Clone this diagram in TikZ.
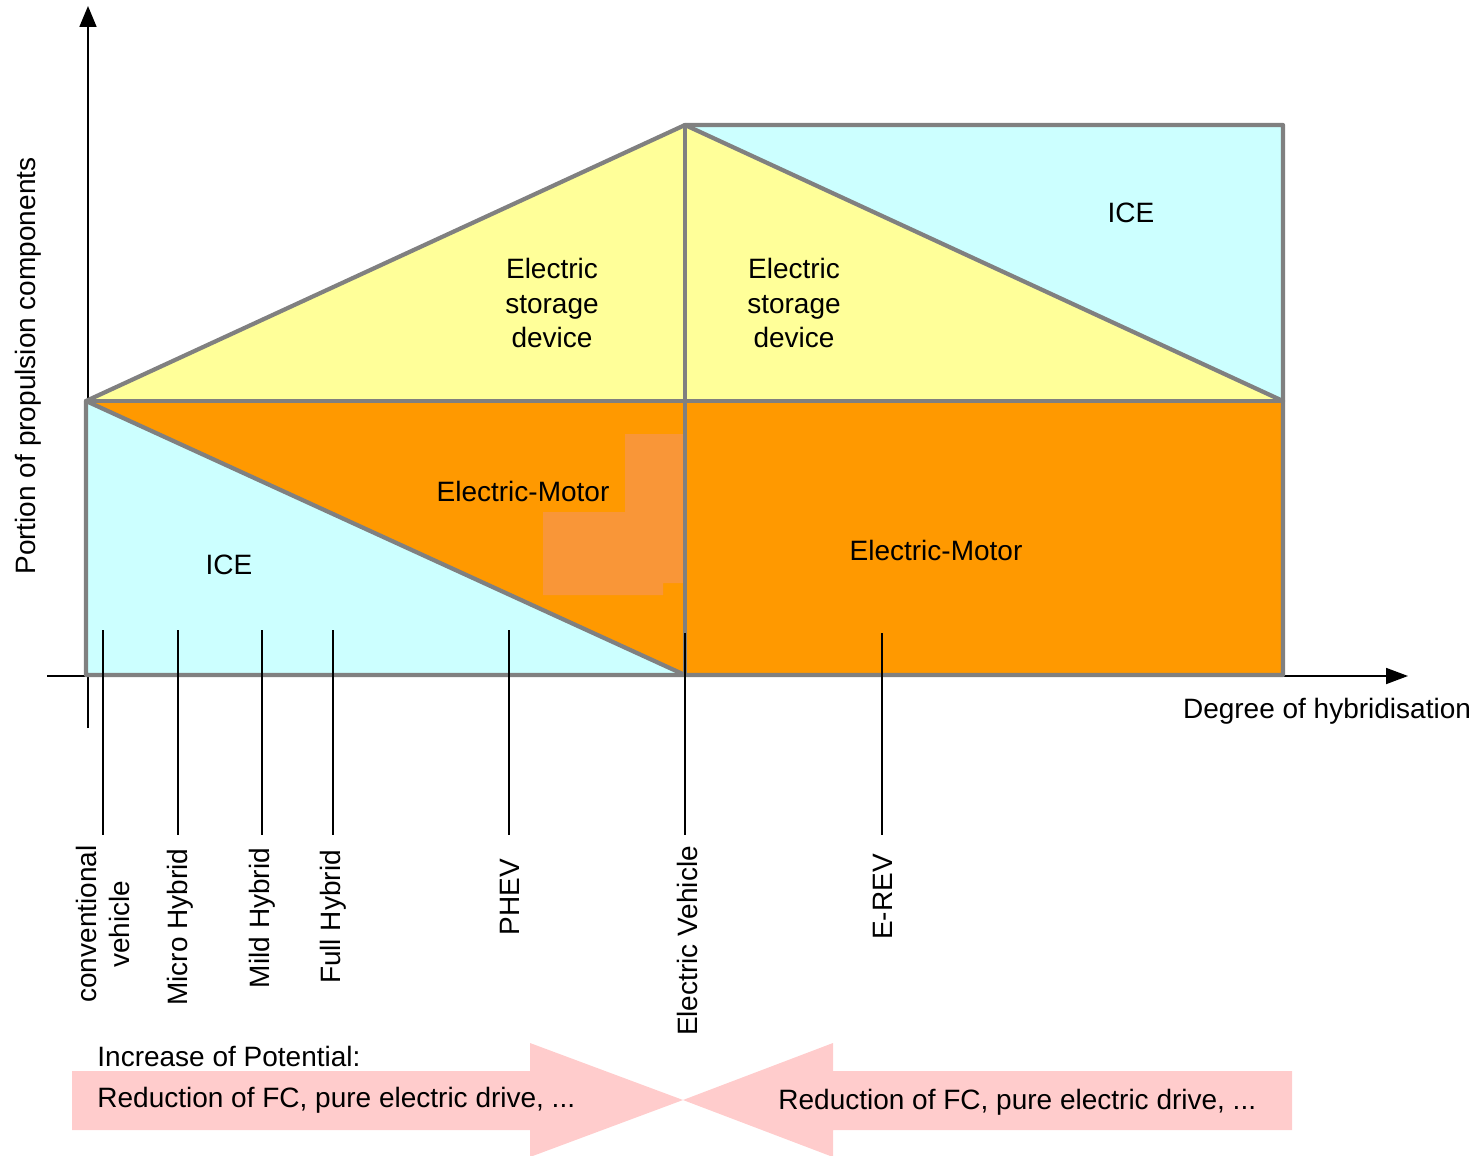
\documentclass[tikz,border=0pt]{standalone}
\usepackage{fontspec}
\setmainfont{Liberation Sans}
\usetikzlibrary{arrows.meta}
\definecolor{iceblue}{HTML}{CCFFFF}
\definecolor{esyellow}{HTML}{FFFF99}
\definecolor{emorange}{HTML}{FF9900}
\definecolor{patchorange}{HTML}{F99638}
\definecolor{outlinegray}{HTML}{808080}
\definecolor{potpink}{HTML}{FFCCCC}
\begin{document}
\begin{tikzpicture}[x=0.5pt,y=-0.5pt,
  lbl/.style={font=\fontsize{14}{17.25}\selectfont, inner sep=0pt, align=center},
  vlbl/.style={font=\fontsize{14}{16.5}\selectfont, inner sep=0pt, align=center, rotate=90},
  btxt/.style={font=\fontsize{14}{16}\selectfont, inner sep=0pt, anchor=west},
  border/.style={outlinegray, line width=2.1pt, line join=round, line cap=round},
  axis/.style={black, line width=0.9pt},
  tick/.style={black, line width=0.75pt},
  arrowbody/.style={fill=potpink, draw=none}]
\useasboundingbox (0,0) rectangle (1479,1156);

% corner points
\coordinate (A) at (86,401);
\coordinate (B) at (685,125);
\coordinate (C) at (685,401);
\coordinate (D) at (685,675);
\coordinate (E) at (86,675);
\coordinate (F) at (1283,125);
\coordinate (G) at (1283,401);
\coordinate (H) at (1283,675);

% axes
\coordinate (yb) at (88,728);
\coordinate (yt) at (88,6);
\coordinate (xl) at (47,676);
\coordinate (xr) at (1408,676);
\draw[axis,-{Triangle[length=10.5pt,width=8.5pt]}] (yb) -- (yt);
\draw[axis,-{Triangle[length=11pt,width=8pt]}] (xl) -- (xr);

% fills
\fill[iceblue] (A) -- (D) -- (E) -- cycle;
\fill[emorange] (A) -- (C) -- (D) -- cycle;
\fill[esyellow] (A) -- (B) -- (C) -- cycle;
\fill[esyellow] (B) -- (G) -- (C) -- cycle;
\fill[iceblue] (B) -- (F) -- (G) -- cycle;
\fill[emorange] (C) rectangle (H);
% lighter patch
\fill[patchorange] (625,434) -- (683,434) -- (683,583) -- (663,583) -- (663,595) -- (543,595) -- (543,512) -- (625,512) -- cycle;

% outlines
\draw[border] (A) -- (B) -- (F) -- (H) -- (E) -- cycle;
\draw[border] (A) -- (G);
\draw[border] (A) -- (D);
\draw[border] (B) -- (G);
\draw[border] (B) -- (D);

% region labels
\node[lbl] (es1) at (552,303) {Electric\\storage\\device};
\node[lbl] (es2) at (794,303) {Electric\\storage\\device};
\node[lbl] (ice1) at (1131,213) {ICE};
\node[lbl] (ice2) at (229,565) {ICE};
\node[lbl] (em1) at (523,491) {Electric-Motor};
\node[lbl] (em2) at (936,550) {Electric-Motor};

% axis labels
\node[vlbl] (ylab) at (28,366) {Portion of propulsion components};
\node[lbl] (xlab) at (1327,711) {Degree of hybridisation};

% ticks
\foreach \n/\x/\t in {t1/103/630, t2/178/630, t3/262/630, t4/333/630, t5/509/630, t6/685/633, t7/882/633} {
  \coordinate (\n a) at (\x,\t);
  \coordinate (\n b) at (\x,835);
  \draw[tick] (\n a) -- (\n b);
}

% vehicle labels
\node[vlbl] (conv) at (103,924) {conventional\\vehicle};
\node[vlbl] (micro) at (180,927) {Micro Hybrid};
\node[vlbl] (mild) at (262,918) {Mild Hybrid};
\node[vlbl] (full) at (333,917) {Full Hybrid};
\node[vlbl] (phev) at (510,897) {PHEV};
\node[vlbl] (ev) at (687,941) {Electric Vehicle};
\node[vlbl] (erev) at (883,897) {E-REV};

% potential arrows
\fill[potpink] (72,1071) -- (530,1071) -- (530,1043) -- (683,1100) -- (530,1157) -- (530,1130) -- (72,1130) -- cycle;
\fill[potpink] (1292,1071) -- (833,1071) -- (833,1043) -- (683,1100) -- (833,1157) -- (833,1130) -- (1292,1130) -- cycle;
\node[btxt] (inc) at (97,1056) {Increase of Potential:};
\node[btxt] (red1) at (97,1100) {Reduction of FC, pure electric drive, ...};
\node[btxt] (red2) at (778,1102) {Reduction of FC, pure electric drive, ...};
\end{tikzpicture}
\end{document}
